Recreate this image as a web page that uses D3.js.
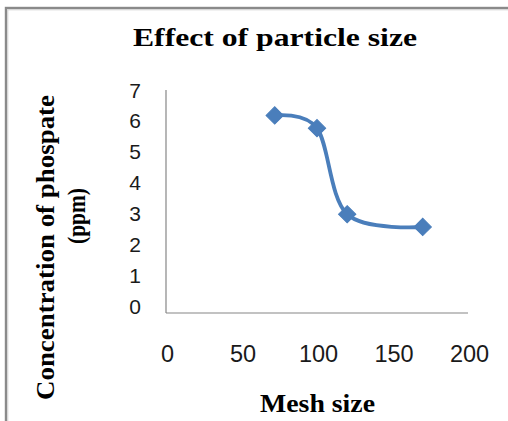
<!DOCTYPE html>
<html>
<head>
<meta charset="utf-8">
<script src="https://cdn.jsdelivr.net/npm/d3@7/dist/d3.min.js"></script>
<style>
html,body{margin:0;padding:0;background:#fff;overflow:hidden;}
svg{display:block;}
</style>
</head>
<body>
<script>
const meshSize = [72, 100, 120, 170];
const concentration = [6.2, 5.8, 3.1, 2.7];
const xTicks = [0, 50, 100, 150, 200];
const yTicks = [0, 1, 2, 3, 4, 5, 6, 7];
const titleText = "Effect of particle size";
const xTitle = "Mesh size";
const yTitleLines = ["Concentration of phospate", "(ppm)"];

const W = 508, H = 421;
const svg = d3.select("body").append("svg").attr("width", W).attr("height", H);

// outer chart border (clipped at right/bottom as in the reference)
svg.append("rect").attr("x", 6).attr("y", 8).attr("width", W + 20).attr("height", H + 20)
  .attr("fill", "#fff").attr("stroke", "#8a8a8a").attr("stroke-width", 2.4);
svg.append("path").attr("d", `M7.8,${H} V9.8 H${W}`).attr("fill", "none")
  .attr("stroke", "#d0d0d0").attr("stroke-width", 1);

const x = d3.scaleLinear().domain([0, 200]).range([166, 468]);
const y = d3.scaleLinear().domain([0, 7]).range([313, 90]);
const yLab = d3.scaleLinear().domain([0, 7]).range([306, 89.5]);

// axes lines
const g = svg.append("g");
g.append("line").attr("x1", x(0)).attr("x2", x(0)).attr("y1", y(7)).attr("y2", y(0))
  .attr("stroke", "#868686").attr("stroke-width", 1.2);
g.append("line").attr("x1", x(0)).attr("x2", x(200)).attr("y1", y(0)).attr("y2", y(0))
  .attr("stroke", "#868686").attr("stroke-width", 1.2);

// tick labels
const yAxis = d3.axisLeft(yLab).tickValues(yTicks).tickSize(0).tickPadding(0).tickFormat(d3.format("d"));
const ya = svg.append("g").attr("transform", "translate(141,0)").call(yAxis);
ya.select(".domain").remove();
ya.selectAll("text").attr("font-family", "'Liberation Sans', Arial, sans-serif")
  .attr("font-size", 21).attr("fill", "#1a1a1a").attr("dy", "0.36em");

const xAxis = d3.axisBottom(x).tickValues(xTicks).tickSize(0).tickPadding(0).tickFormat(d3.format("d"));
const xa = svg.append("g").attr("transform", "translate(1,362)").call(xAxis);
xa.select(".domain").remove();
xa.selectAll("text").attr("font-family", "'Liberation Sans', Arial, sans-serif")
  .attr("font-size", 23.5).attr("fill", "#1a1a1a").attr("dy", 0);

// line
const pts = meshSize.map((m, i) => [m, concentration[i]]);
const line = d3.line().x(d => x(d[0])).y(d => y(d[1])).curve(d3.curveCardinal.tension(0));
svg.append("path").datum(pts).attr("d", line).attr("fill", "none")
  .attr("stroke", "#4a7ebb").attr("stroke-width", 3.8).attr("stroke-linecap", "round");

// markers
svg.selectAll(".mk").data(pts).enter().append("path").attr("class", "mk")
  .attr("d", d3.symbol().type(d3.symbolSquare).size(150))
  .attr("transform", d => `translate(${x(d[0])},${y(d[1])}) rotate(45)`)
  .attr("fill", "#4a7ebb").attr("stroke", "#4a7ebb").attr("stroke-width", 1);

// titles
const serif = "'Liberation Serif', 'Times New Roman', serif";
svg.append("text").attr("x", 275).attr("y", 45.5).attr("text-anchor", "middle")
  .attr("font-family", serif).attr("font-weight", "bold").attr("font-size", 24.5)
  .attr("textLength", 284).attr("lengthAdjust", "spacingAndGlyphs")
  .attr("fill", "#000").text(titleText);
svg.append("text").attr("x", 317.5).attr("y", 412).attr("text-anchor", "middle")
  .attr("font-family", serif).attr("font-weight", "bold").attr("font-size", 26)
  .attr("textLength", 115).attr("lengthAdjust", "spacingAndGlyphs")
  .attr("fill", "#000").text(xTitle);
svg.append("text").attr("transform", "translate(54,247.5) rotate(-90)").attr("text-anchor", "middle")
  .attr("font-family", serif).attr("font-weight", "bold").attr("font-size", 25)
  .attr("textLength", 305).attr("lengthAdjust", "spacingAndGlyphs")
  .attr("fill", "#000").text(yTitleLines[0]);
svg.append("text").attr("transform", "translate(85,216) rotate(-90)").attr("text-anchor", "middle")
  .attr("font-family", serif).attr("font-weight", "bold").attr("font-size", 25)
  .attr("textLength", 56).attr("lengthAdjust", "spacingAndGlyphs")
  .attr("fill", "#000").text(yTitleLines[1]);
</script>
</body>
</html>
